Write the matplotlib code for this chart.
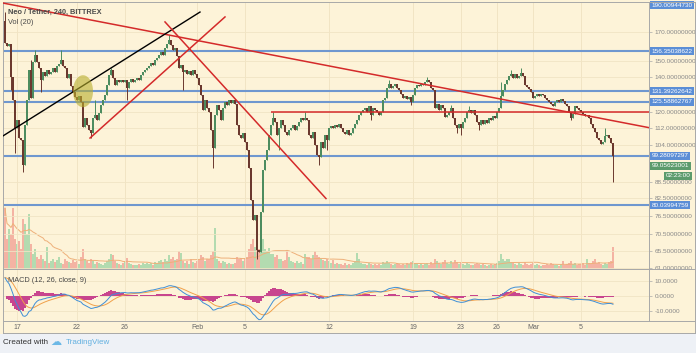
import numpy as np
import pandas as pd
import matplotlib
matplotlib.use("Agg")
import matplotlib.pyplot as plt
from matplotlib.ticker import FixedLocator, NullLocator, FuncFormatter
from matplotlib.patches import Rectangle, Polygon
from matplotlib.lines import Line2D

plt.rcParams['font.family'] = ['Liberation Sans', 'DejaVu Sans']

# ---------------- data (4h candles, index 0 = 16 Jan 00:00) ----------------
first_open = 178.0
closes = [
    162.1, 160.0, 161.4, 139.8, 126.5, 112.0,
    116.0, 107.2, 106.3, 95.4, 113.5, 126.5,
    144.1, 127.6, 149.2, 153.8, 149.2, 145.4,
    138.0, 142.9, 140.4, 144.1, 141.6, 142.9,
    145.4, 142.9, 146.6, 147.9, 150.5, 146.6,
    145.4, 139.2, 141.6, 134.4, 131.0, 128.2,
    126.5, 128.7, 125.4, 112.5, 117.0, 113.5,
    111.0, 109.6, 117.0, 118.5, 116.0, 119.5,
    123.8, 126.5, 129.3, 135.0, 141.0, 144.1,
    139.2, 135.0, 138.0, 136.8, 138.0, 136.8,
    138.0, 133.3, 136.8, 138.6, 136.8, 138.0,
    139.2, 138.0, 141.0, 142.9, 144.1, 145.4,
    146.6, 148.6, 147.3, 150.5, 151.8, 153.8,
    155.8, 153.8, 158.6, 161.4, 164.2, 160.7,
    157.2, 158.6, 153.2, 145.4, 147.3, 142.9,
    144.1, 141.6, 143.5, 141.0, 144.1, 141.6,
    139.2, 135.0, 129.3, 121.1, 126.5, 122.2,
    120.1, 111.0, 102.7, 118.5, 123.8, 121.1,
    116.0, 122.2, 125.4, 123.8, 126.5, 124.9,
    126.5, 124.3, 113.5, 108.6, 107.2, 109.6,
    105.4, 101.8, 94.1, 81.9, 75.1, 76.7,
    65.9, 65.3, 77.7, 93.3, 97.4, 101.8,
    108.6, 113.5, 117.0, 115.0, 108.6, 112.0,
    116.0, 113.5, 110.1, 108.6, 111.0, 112.0,
    113.5, 111.0, 113.0, 115.0, 117.0, 116.0,
    117.0, 116.0, 108.6, 107.2, 110.1, 104.0,
    99.6, 98.7, 105.4, 102.7, 108.6, 106.3,
    112.0, 113.0, 112.0, 113.5, 112.5, 114.0,
    112.0, 110.1, 109.1, 111.0, 108.6, 109.6,
    112.0, 114.0, 116.0, 118.5, 120.1, 121.1,
    122.2, 120.1, 123.2, 118.5, 122.2, 121.1,
    120.1, 118.5, 120.1, 126.5, 127.6, 133.3,
    135.6, 133.3, 134.4, 135.6, 133.3, 132.1,
    129.8, 127.6, 128.7, 127.0, 128.2, 125.4,
    129.3, 133.3, 135.0, 134.4, 135.6, 135.0,
    136.8, 138.0, 136.8, 133.3, 132.1, 122.2,
    124.3, 121.1, 123.8, 122.2, 117.5, 118.5,
    120.1, 122.2, 117.0, 113.5, 112.0, 114.0,
    112.0, 115.0, 117.0, 120.1, 121.1, 119.5,
    121.1, 118.5, 115.0, 113.5, 116.0, 114.0,
    116.0, 114.5, 117.0, 116.0, 118.0, 117.0,
    120.1, 122.2, 128.7, 132.1, 135.6, 138.0,
    140.4, 141.6, 139.2, 141.6, 139.2, 140.4,
    142.2, 140.4, 135.0, 133.8, 132.7, 131.0,
    127.6, 128.7, 129.8, 128.7, 129.8, 129.3,
    127.6, 126.5, 125.4, 124.3, 123.2, 125.4,
    126.5, 125.4, 127.0, 125.9, 124.3, 123.2,
    120.1, 117.0, 119.0, 123.2, 122.2, 121.1,
    120.1, 119.0, 118.0, 118.5, 117.0, 114.0,
    112.0, 110.1, 107.2, 106.3, 104.5, 105.4,
    108.1, 108.6, 107.2, 104.9, 99.06,
]
wick_highs = {0: 185.4, 13: 150.5, 15: 157.2, 28: 157.2, 45: 126.5, 53: 145.4,
              82: 167.8, 134: 120.1, 150: 120.1, 192: 138.0, 211: 139.8,
              223: 123.8, 232: 123.2, 248: 136.8, 253: 144.1, 258: 145.4, 300: 112.0}
wick_lows = {3: 132.1, 5: 100.5, 9: 92.5, 18: 131.0, 43: 107.2, 61: 126.5,
             89: 132.1, 104: 94.1, 126: 63.4, 137: 101.8, 157: 95.4, 161: 101.8,
             183: 116.0, 203: 123.8, 226: 109.6, 228: 108.6, 237: 111.0,
             283: 116.0, 304: 88.5}
volumes = [
    61, 30, 40, 35, 61, 30,   25, 28, 20, 50, 45, 35,   55, 25, 15, 20, 12, 10,
    14, 10, 8, 22, 6, 8,      10, 7, 9, 12, 6, 5,       10, 8, 7, 6, 9, 7,
    8, 5, 12, 20, 10, 8,      6, 10, 8, 5, 7, 6,        5, 4, 6, 8, 10, 15,
    14, 8, 6, 5, 4, 6,        8, 11, 6, 5, 4, 4,        4, 5, 4, 6, 5, 6,
    5, 6, 4, 7, 6, 8,         9, 7, 10, 8, 14, 10,      12, 9, 10, 18, 16, 8,
    6, 8, 5, 10, 7, 6,        8, 10, 14, 12, 8, 10,     10, 14, 18, 41, 10, 8,
    6, 8, 7, 5, 6, 5,         5, 6, 12, 10, 11, 8,      10, 12, 20, 25, 30, 22,
    30, 20, 25, 30, 20, 18,   21, 15, 15, 12, 14, 10,   10, 8, 9, 18, 12, 8,
    7, 6, 8, 6, 7, 5,         15, 12, 12, 10, 14, 18,   14, 12, 10, 9, 8, 10,
    8, 6, 9, 5, 6, 5,         5, 4, 6, 4, 5, 4,         6, 8, 16, 10, 6, 5,
    5, 4, 6, 5, 4, 5,         4, 5, 4, 7, 6, 8,         6, 5, 4, 5, 6, 5,
    4, 5, 4, 6, 5, 7,         8, 6, 5, 4, 5, 4,         5, 6, 4, 7, 5, 10,
    8, 6, 5, 7, 9, 6,         5, 8, 6, 9, 7, 5,         6, 5, 4, 6, 5, 4,
    4, 5, 6, 5, 4, 5,         4, 3, 4, 5, 4, 5,         6, 8, 15, 10, 8, 10,
    10, 7, 6, 5, 4, 6,        5, 4, 7, 5, 4, 5,         6, 4, 5, 4, 3, 4,
    4, 5, 4, 6, 5, 4,         4, 3, 5, 8, 4, 5,         6, 8, 5, 6, 4, 5,
    5, 6, 4, 10, 6, 5,        8, 10, 6, 7, 5, 4,        6, 5, 7, 8, 22,
]
# MACD state at the left edge of the chart
macd_seed_ema12 = 178.0
macd_seed_ema26 = 164.0
macd_seed_signal = 12.0

date_ticks = [6, 36, 60, 96, 120, 162, 204, 228, 246, 264, 288]
date_labels = ['17', '22', '26', 'Feb', '5', '12', '19', '23', '26', 'Mar', '5']
price_ticks = [170, 150, 140, 120, 112, 104, 88.5, 82.5, 76.5, 70.5, 65.5, 61]
hlines_blue = [156.35038622, 131.39262642, 125.58862767, 99.28097297, 80.03994759]
top_label = '190.00944730'
last_price = 99.05623001
countdown = '02:23:00'
# drawings: (x0, price0, x1, price1)
line_long_red = (-1, 192.8, 306, 115.2)
line_black = (-1, 108.2, 97.5, 185.4)
line_red_up = (42.5, 107.2, 110, 181.5)
line_red_down = (80, 177.6, 160.5, 82.4)
red_level = (133, 120.0)
ellipse_c = (39, 131.4)

# ---------------- figure ----------------
W, H = 696, 353
fig = plt.figure(figsize=(W / 100, H / 100), dpi=100)
BG = '#fdf3d8'
fig.patch.set_facecolor(BG)


def rect(l, t, r, b):
    return [l / W, 1 - b / H, (r - l) / W, (b - t) / H]


XMAX = 322
n = len(closes)
idx = np.arange(n)
closes_a = np.array(closes)
opens = np.concatenate([[first_open], closes_a[:-1]])
up = closes_a >= opens
highs = np.maximum(opens, closes_a)
lows = np.minimum(opens, closes_a)
for k, v in wick_highs.items():
    highs[k] = v
for k, v in wick_lows.items():
    lows[k] = v

UPC, DNC = '#4d8c5f', '#6b382e'
GRID = '#f1e4c4'
SPINE = '#a8a8a8'

# volume background axes
axv = fig.add_axes(rect(3, 2, 649, 269), zorder=0)
axv.set_facecolor(BG)
axv.set_xlim(-1, XMAX)
axv.set_ylim(0, 267)
vcol = np.where(up, '#b3dbb0', '#f4b3a3')
axv.bar(idx, volumes, width=0.8, color=vcol, linewidth=0)
vma = pd.Series(volumes, dtype=float).rolling(20, min_periods=1).mean()
axv.plot(idx, vma, color='#eeb07a', lw=0.7)
for d in date_ticks:
    axv.axvline(d, color=GRID, lw=0.6, zorder=0)
axv.set_xticks([]); axv.set_yticks([])
for s in axv.spines.values():
    s.set_visible(False)

# price axes
ax = fig.add_axes(rect(3, 2, 649, 269), zorder=1)
ax.patch.set_visible(False)
ax.set_yscale('log')
ax.set_xlim(-1, XMAX)
ax.set_ylim(60.66, 193.68)
for p in price_ticks:
    ax.axhline(p, color=GRID, lw=0.6, zorder=0)

ccol = np.where(up, UPC, DNC)
ax.vlines(idx, lows, highs, colors=ccol, lw=0.7, zorder=3)
body_h = np.where(np.abs(closes_a - opens) < 0.3, 0.3, closes_a - opens)
ax.bar(idx, body_h, bottom=opens, width=0.82, color=ccol, linewidth=0, zorder=3)

for p in hlines_blue:
    ax.axhline(p, color='#6f97cf', lw=1.5, zorder=2)

RED = '#d42a2a'
ax.axline(line_long_red[:2], line_long_red[2:], color=RED, lw=1.1, zorder=4)
ax.plot([line_black[0], line_black[2]], [line_black[1], line_black[3]], color='black', lw=1.0, zorder=4)
ax.plot([line_red_up[0], line_red_up[2]], [line_red_up[1], line_red_up[3]], color=RED, lw=1.1, zorder=4)
ax.plot([line_red_down[0], line_red_down[2]], [line_red_down[1], line_red_down[3]], color=RED, lw=1.1, zorder=4)
ax.hlines(red_level[1], red_level[0], XMAX, color=RED, lw=1.1, zorder=4)

t = np.linspace(0, 2 * np.pi, 80)
ex = ellipse_c[0] + 5.0 * np.cos(t)
ey = ellipse_c[1] * np.exp(0.0696 * np.sin(t))
ax.add_patch(Polygon(np.column_stack([ex, ey]), closed=True, fc='#b8ae2c', ec='none', alpha=0.6, zorder=5))

ax.yaxis.tick_right()
ax.yaxis.set_major_locator(FixedLocator(price_ticks))
ax.yaxis.set_minor_locator(NullLocator())
ax.yaxis.set_major_formatter(FuncFormatter(lambda v, pos: f'{v:.8f}'))
ax.tick_params(axis='y', which='major', length=2.5, width=0.5, color='#aaaaaa',
               labelsize=4.6, labelcolor='#888888', pad=1.5)
ax.set_xticks(date_ticks)
ax.tick_params(axis='x', length=0, labelbottom=False)
for d in date_ticks:
    ax.axvline(d, color=GRID, lw=0.6, zorder=0)
for s in ax.spines.values():
    s.set_color(SPINE); s.set_linewidth(0.7)

ytr = ax.get_yaxis_transform()
lab_kw = dict(transform=ytr, va='center', ha='left', fontsize=4.6, color='white', zorder=10, clip_on=False)
for p in hlines_blue:
    ax.text(1.004, p, f'{p:.8f}', bbox=dict(boxstyle='square,pad=0.25', fc='#5b8ed6', ec='none'), **lab_kw)
ax.text(1.004, 191.0, top_label, bbox=dict(boxstyle='square,pad=0.25', fc='#5b8ed6', ec='none'), **lab_kw)
ax.annotate(f'{last_price:.8f}', xy=(1.004, last_price), xycoords=ytr, xytext=(0, -7), textcoords='offset points',
            va='center', ha='left', fontsize=4.6, color='white', annotation_clip=False,
            bbox=dict(boxstyle='square,pad=0.25', fc='#5c9b6c', ec='none'))
ax.annotate(countdown, xy=(1.004, last_price), xycoords=ytr, xytext=(10, -14), textcoords='offset points',
            va='center', ha='left', fontsize=4.6, color='white', annotation_clip=False,
            bbox=dict(boxstyle='square,pad=0.25', fc='#5c9b6c', ec='none'))

ax.text(5 / 646, 1 - 10 / 267, 'Neo / Tether, 240, BITTREX', transform=ax.transAxes, fontsize=5.3,
        color='#4a4a4a', fontweight='bold', va='center', ha='left', zorder=10)
ax.text(5 / 646, 1 - 21 / 267, 'Vol (20)', transform=ax.transAxes, fontsize=5.3,
        color='#4a4a4a', va='center', ha='left', zorder=10)

# MACD (12, 26, close, 9), EMAs continued from the state at the left edge
e12, e26, sig = macd_seed_ema12, macd_seed_ema26, macd_seed_signal
a12, a26, a9 = 2 / 13, 2 / 27, 2 / 10
macd, signal = [], []
for c in closes_a:
    e12 += a12 * (c - e12)
    e26 += a26 * (c - e26)
    m = e12 - e26
    sig += a9 * (m - sig)
    macd.append(m); signal.append(sig)
macd = np.array(macd); signal = np.array(signal)
hist = macd - signal

axm = fig.add_axes(rect(3, 269, 649, 321))
axm.set_facecolor(BG)
axm.set_xlim(-1, XMAX)
axm.set_ylim(-16.13, 17.42)
for d in date_ticks:
    axm.axvline(d, color=GRID, lw=0.6, zorder=0)
for p in (10, 0, -10):
    axm.axhline(p, color=GRID, lw=0.6, zorder=0)
axm.bar(idx, hist, width=0.6, color='#c8458e', linewidth=0, zorder=2)
axm.plot(idx, signal, color='#f0a04a', lw=0.7, zorder=3)
axm.plot(idx, macd, color='#3f8fd6', lw=0.7, zorder=3)
axm.yaxis.tick_right()
axm.set_yticks([10, 0, -10])
axm.set_yticklabels(['10.0000', '0.0000', '-10.0000'])
axm.tick_params(axis='y', length=2.5, width=0.5, color='#aaaaaa', labelsize=4.6, labelcolor='#888888', pad=1.5)
axm.set_xticks(date_ticks)
axm.set_xticklabels(date_labels)
axm.tick_params(axis='x', length=0, labelsize=5, labelcolor='#666666', pad=2.5)
for s in axm.spines.values():
    s.set_color(SPINE); s.set_linewidth(0.7)
axm.text(5 / 646, 1 - 12 / 52, 'MACD (12, 26, close, 9)', transform=axm.transAxes, fontsize=5.3,
         color='#4a4a4a', va='center', ha='left', zorder=5)

# pane separators across the whole width, bottom of date row, footer
for yy in (269, 321):
    fig.add_artist(Line2D([649 / W, 1], [1 - yy / H] * 2, color=SPINE, lw=0.7))
fig.add_artist(Line2D([3 / W, 695 / W], [1 - 333 / H] * 2, color=SPINE, lw=0.7))
fig.add_artist(Line2D([3 / W, 3 / W], [1 - 333 / H, 1 - 321 / H], color=SPINE, lw=0.7))
fig.add_artist(Line2D([695 / W, 695 / W], [1 - 333 / H, 1 - 2 / H], color=SPINE, lw=0.7))
fig.add_artist(Line2D([649 / W, 695 / W], [1 - 2 / H] * 2, color=SPINE, lw=0.7))
fig.patches.append(Rectangle((0, 0), 1, 1 - 334 / H, transform=fig.transFigure, fc='#eef1f6', ec='none'))
fig.text(3 / W, 1 - 343 / H, 'Created with', fontsize=5.8, color='#333333', va='center', ha='left')
fig.text(50 / W, 1 - 342 / H, '\u2601', fontsize=8, color='#6cb8e6', va='center', ha='left',
         family=['DejaVu Sans'])
fig.text(66 / W, 1 - 343 / H, 'TradingView', fontsize=5.8, color='#62b0e0', va='center', ha='left')

fig.savefig('out.png', dpi=100, facecolor=BG)
